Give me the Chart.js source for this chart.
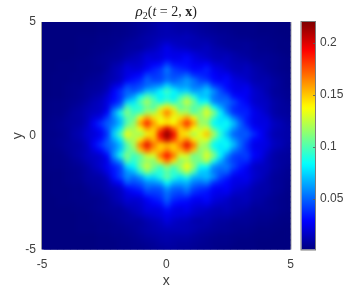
<!DOCTYPE html>
<html>
<head>
<meta charset="utf-8">
<script src="https://cdn.jsdelivr.net/npm/chart.js@4"></script>
<style>
html, body { margin: 0; padding: 0; background: #fff; }
#wrap { position: relative; width: 363px; height: 290px; overflow: hidden; }
canvas { position: absolute; top: 0; }
</style>
</head>
<body>
<div id="wrap">
<canvas id="heat" width="363" height="290" style="left:0"></canvas>
<canvas id="bar" width="73" height="290" style="left:290px"></canvas>
</div>
<script>
// density, in thousandths, top row first
const densityRows = [
[1,1,1,1,1,1,1,1,2,2,2,3,3,4,5,6,7,9,10,9,8,8,7,6,5,4,3,3,2,2,2,2,1,1,1,1,1],
[1,1,1,1,1,1,1,1,2,2,3,3,4,5,6,7,9,11,12,10,9,9,8,7,6,5,4,4,3,3,3,3,2,2,2,1,1],
[1,1,1,1,1,1,1,1,2,2,3,3,4,5,6,8,9,11,12,11,10,11,9,8,7,6,5,5,4,3,3,3,2,2,2,1,1],
[1,1,1,1,1,2,2,2,3,3,4,4,5,6,8,10,11,12,13,13,13,14,12,10,9,8,7,6,5,4,4,3,3,3,2,2,1],
[1,1,1,1,1,2,2,2,3,3,4,5,7,8,9,10,12,15,18,15,14,13,12,12,12,9,7,6,6,6,6,5,4,3,3,2,2],
[1,1,1,1,1,2,2,3,3,4,5,6,8,8,8,12,14,18,25,19,17,16,13,13,15,11,10,8,6,6,7,5,4,4,3,2,2],
[1,1,1,1,1,2,2,3,4,5,6,7,9,11,14,18,19,21,24,23,23,24,20,17,15,13,12,12,10,8,7,6,5,5,4,3,2],
[1,1,1,1,2,2,3,4,5,6,7,8,12,14,16,22,20,21,27,24,25,30,23,20,18,14,13,15,11,10,9,6,6,6,5,4,3],
[1,1,2,2,2,3,3,4,5,6,10,12,18,17,18,23,28,30,42,32,31,30,26,25,28,20,18,15,13,12,13,9,8,6,5,4,3],
[1,1,2,2,2,3,3,4,4,7,12,15,22,20,21,28,35,40,55,41,37,34,29,30,35,25,22,18,14,13,15,11,9,7,5,4,3],
[1,2,2,2,3,3,4,5,6,9,12,16,22,26,29,42,39,42,50,44,44,50,38,36,33,28,24,26,18,16,15,12,10,9,6,5,4],
[1,2,2,2,3,3,5,6,7,10,13,16,27,32,37,50,43,43,52,48,54,62,54,43,40,30,27,30,22,20,17,12,11,11,8,6,4],
[1,2,2,3,4,4,6,7,8,11,20,25,42,40,44,50,56,59,75,62,60,62,54,52,60,41,36,29,24,22,23,15,13,11,8,6,4],
[1,2,2,3,4,5,7,8,9,14,27,38,50,46,52,70,70,84,98,84,72,75,62,65,74,60,45,34,25,24,26,18,15,11,7,6,5],
[1,2,2,3,4,5,7,10,12,19,29,37,52,62,85,102,92,80,88,80,95,108,90,70,70,54,48,46,31,28,25,18,16,13,8,7,5],
[2,3,3,4,5,6,9,13,15,22,31,40,72,78,102,120,102,88,100,90,108,128,108,82,85,57,52,52,44,33,27,18,16,15,10,8,6],
[2,3,3,4,6,8,11,14,16,22,44,56,100,90,92,108,100,125,142,125,102,112,100,105,120,85,65,50,38,34,32,22,18,15,10,8,7],
[2,3,3,5,8,9,13,15,17,27,60,88,112,96,100,118,120,145,168,145,120,120,102,113,132,113,82,56,38,35,35,25,21,16,10,8,7],
[2,4,4,6,8,9,13,20,24,40,56,72,102,105,140,160,145,132,150,132,145,158,140,112,122,95,78,75,55,42,33,24,22,20,12,10,8],
[3,4,5,7,8,9,14,26,38,48,54,68,100,115,158,188,160,138,142,138,160,186,158,118,112,83,79,85,70,50,34,24,22,22,15,13,9],
[3,4,5,6,9,11,16,23,30,44,64,80,118,118,136,160,148,170,198,170,148,160,138,124,132,100,86,78,60,48,42,29,25,21,14,12,10],
[3,3,4,6,10,12,18,20,24,38,73,100,136,122,116,135,148,195,228,195,148,135,118,135,152,122,92,68,49,46,48,38,28,19,12,11,10],
[3,4,5,6,9,11,16,23,30,44,64,80,118,120,142,165,152,180,205,180,152,165,142,126,132,100,86,78,60,49,42,29,26,21,14,12,10],
[3,4,5,7,8,9,14,26,38,48,54,68,100,120,168,198,168,146,152,146,168,198,168,122,112,83,79,85,70,51,36,24,23,22,15,13,9],
[3,3,4,6,8,10,13,21,28,41,56,72,102,110,150,172,155,150,165,150,155,172,150,112,122,95,79,76,55,46,38,26,24,19,12,10,8],
[2,3,3,5,8,10,14,16,18,28,60,88,112,96,104,128,130,168,192,168,130,130,106,113,132,113,82,58,42,40,42,29,24,16,10,8,7],
[2,3,3,4,6,8,12,15,18,23,46,60,102,92,106,116,112,145,168,145,112,122,110,108,122,88,66,50,41,37,37,23,20,14,10,8,7],
[2,3,3,4,5,6,9,14,18,25,34,42,75,82,108,128,110,98,118,100,118,138,116,86,85,59,54,55,44,34,27,17,15,14,10,8,6],
[2,2,2,3,4,5,8,11,14,22,32,42,60,68,92,112,98,90,102,92,105,122,100,72,70,54,48,49,34,29,24,18,15,13,8,7,5],
[1,2,2,3,4,5,8,9,10,15,31,42,58,52,60,78,75,90,105,90,78,90,68,66,70,60,43,35,25,24,25,18,15,11,7,6,5],
[1,2,2,3,4,4,7,8,9,12,22,28,48,44,48,58,60,64,85,67,65,68,55,52,56,39,34,29,23,22,22,15,12,10,7,6,4],
[1,2,2,2,3,3,5,7,8,11,14,17,30,34,38,50,46,47,62,51,50,58,44,40,38,28,26,28,21,19,17,12,10,10,7,6,4],
[1,2,2,2,3,3,4,6,6,9,12,15,22,26,29,40,40,42,52,44,42,48,36,33,31,25,23,24,17,16,14,11,10,9,6,5,3],
[1,1,2,2,3,3,4,4,5,7,11,14,20,19,20,28,33,37,50,38,35,34,27,26,30,22,20,17,13,13,14,10,9,7,5,4,3],
[1,1,2,2,2,3,3,4,5,6,9,11,16,16,18,23,27,30,42,30,28,27,23,22,24,18,16,15,12,12,12,8,8,6,5,4,3],
[1,1,1,1,2,2,3,4,5,6,7,7,11,14,16,22,21,22,30,23,21,25,19,17,16,13,12,14,11,10,9,6,6,6,5,4,3],
[1,1,1,1,1,2,2,3,4,5,6,7,8,11,14,17,19,21,24,22,21,20,17,15,13,12,11,11,9,8,7,6,5,5,4,3,2],
[1,1,1,1,1,2,2,3,3,4,5,6,8,8,8,12,14,16,22,17,15,15,11,10,12,9,8,8,6,6,6,5,4,4,3,2,2],
[1,1,1,1,1,2,2,2,3,3,4,5,6,7,8,10,12,14,17,15,14,13,12,11,10,8,7,6,5,5,5,4,3,3,2,2,1],
[1,1,1,1,1,2,2,2,3,3,4,4,5,6,8,10,11,12,13,13,13,13,11,9,8,7,6,6,5,4,4,3,2,2,2,1,1],
[1,1,1,1,1,1,1,1,2,2,3,3,4,5,6,8,9,10,11,10,10,10,8,7,6,5,4,4,3,3,3,2,2,2,1,1,1],
[1,1,1,1,1,1,1,1,2,2,2,3,3,4,5,6,7,9,10,9,8,8,7,6,5,4,4,4,3,2,2,2,1,1,1,1,1],
[1,1,1,1,1,1,1,1,2,2,2,3,3,4,4,5,6,7,8,8,7,7,6,5,5,4,3,3,2,2,2,2,1,1,1,1,1]
];
const axisTicks = [-5, 0, 5];
const colorTicks = [0.05, 0.1, 0.15, 0.2];
const colorRange = [0.001, 0.22];

// grid spacing of the table above, in axis units
const firstX = -4.79, stepX = 0.2684;
const firstY = 4.995, stepY = 0.2363;

const textColor = '#404040';
const font = { family: '"Liberation Sans", Arial, sans-serif', size: 12 };

function jet(v) {
    const t = Math.min(1, Math.max(0, (v - colorRange[0]) / (colorRange[1] - colorRange[0])));
    const ch = c => Math.round(255 * Math.min(1, Math.max(0, 1.5 - Math.abs(4 * t - c))));
    return `rgb(${ch(3)},${ch(2)},${ch(1)})`;
}

const points = [];
const colors = [];
densityRows.forEach((row, r) => {
    row.forEach((value, c) => {
        points.push({ x: firstX + c * stepX, y: firstY - r * stepY });
        colors.push(jet(value / 1000));
    });
});

// navy behind the cells, then soften the cells so they read like the shaded image
const heatShading = {
    id: 'heatShading',
    beforeDatasetsDraw(chart) {
        const { ctx, chartArea: a } = chart;
        ctx.save();
        ctx.fillStyle = jet(0);
        ctx.fillRect(a.left, a.top, a.width, a.height);
        ctx.restore();
    },
    afterDatasetsDraw(chart) {
        const { ctx, chartArea: a } = chart;
        ctx.save();
        ctx.beginPath();
        ctx.rect(a.left, a.top, a.width, a.height);
        ctx.clip();
        ctx.filter = 'blur(2.4px)';
        ctx.drawImage(ctx.canvas, a.left, a.top, a.width, a.height, a.left, a.top, a.width, a.height);
        ctx.restore();
        ctx.save();
        ctx.strokeStyle = 'rgba(120,120,130,0.75)';
        ctx.lineWidth = 1;
        ctx.beginPath();
        ctx.moveTo(a.left - 0.5, a.top);
        ctx.lineTo(a.left - 0.5, a.bottom);
        ctx.moveTo(a.right + 0.5, a.top);
        ctx.lineTo(a.right + 0.5, a.bottom);
        ctx.stroke();
        ctx.restore();
    }
};

// title has mixed styles, so it goes run by run
const titleRuns = [
    ['\u03C1', 'italic 15px "Liberation Serif"', 0],
    ['2', '10px "Liberation Serif"', 3],
    ['(', '14px "Liberation Serif"', 0],
    ['t', 'italic 14px "Liberation Serif"', 0],
    [' = 2, ', '14px "Liberation Serif"', 0],
    ['x', 'bold 14px "Liberation Serif"', 0],
    [')', '14px "Liberation Serif"', 0]
];
const mixedTitle = {
    id: 'mixedTitle',
    afterDraw(chart) {
        const { ctx, chartArea: a } = chart;
        ctx.save();
        ctx.fillStyle = '#222';
        ctx.textBaseline = 'alphabetic';
        ctx.textAlign = 'left';
        let width = 0;
        titleRuns.forEach(([text, f]) => { ctx.font = f; width += ctx.measureText(text).width; });
        let x = (a.left + a.right) / 2 - width / 2;
        titleRuns.forEach(([text, f, drop]) => {
            ctx.font = f;
            ctx.fillText(text, x, 16 + drop);
            x += ctx.measureText(text).width;
        });
        ctx.restore();
    }
};

new Chart(document.getElementById('heat'), {
    type: 'scatter',
    data: {
        datasets: [{
            data: points,
            pointStyle: 'rect',
            pointRadius: 5.1,
            pointBorderWidth: 0,
            pointBackgroundColor: colors,
            clip: 0
        }]
    },
    plugins: [heatShading, mixedTitle],
    options: {
        responsive: false,
        animation: false,
        layout: { padding: { left: 0, right: 72.5, top: 22, bottom: 0 } },
        plugins: { legend: { display: false }, tooltip: { enabled: false } },
        scales: {
            x: {
                type: 'linear', min: -5, max: 5,
                afterBuildTicks(s) { s.ticks = axisTicks.map(value => ({ value })); },
                afterFit(s) { s.height = 40.5; },
                grid: { display: false, drawTicks: false },
                border: { display: false },
                ticks: { color: textColor, font, maxRotation: 0, padding: 8 },
                title: { display: true, text: 'x', color: textColor, font: { ...font, size: 14 }, padding: { top: 0, bottom: 0 } }
            },
            y: {
                type: 'linear', min: -5, max: 5,
                afterBuildTicks(s) { s.ticks = axisTicks.map(value => ({ value })); },
                afterFit(s) { s.width = 42; },
                grid: { display: false, drawTicks: false },
                border: { display: false },
                ticks: { color: textColor, font, padding: 6 },
                title: { display: true, text: 'y', color: textColor, font: { ...font, size: 14 }, padding: { top: 10, bottom: 0 } }
            }
        }
    }
});

const barFrame = {
    id: 'barFrame',
    afterDatasetsDraw(chart) {
        const { ctx, chartArea: a, scales } = chart;
        ctx.save();
        ctx.strokeStyle = 'rgba(90,90,90,0.8)';
        ctx.lineWidth = 1;
        ctx.strokeRect(a.left - 0.5, a.top - 0.5, a.width + 1, a.height + 1);
        ctx.beginPath();
        colorTicks.forEach(v => {
            const y = Math.round(scales.y.getPixelForValue(v)) + 0.5;
            ctx.moveTo(a.right - 2, y);
            ctx.lineTo(a.right, y);
        });
        ctx.stroke();
        ctx.restore();
    }
};

new Chart(document.getElementById('bar'), {
    type: 'bar',
    data: {
        labels: [''],
        datasets: [{
            data: [colorRange],
            barPercentage: 1,
            categoryPercentage: 1,
            backgroundColor(c) {
                const a = c.chart.chartArea;
                if (!a) return jet(0);
                const g = c.chart.ctx.createLinearGradient(0, a.bottom, 0, a.top);
                for (let i = 0; i <= 63; i++) {
                    g.addColorStop(i / 63, jet(colorRange[0] + (colorRange[1] - colorRange[0]) * i / 63));
                }
                return g;
            }
        }]
    },
    plugins: [barFrame],
    options: {
        responsive: false,
        animation: false,
        layout: { padding: { left: 11.5, right: 0, top: 22, bottom: 40.5 } },
        plugins: { legend: { display: false }, tooltip: { enabled: false } },
        scales: {
            x: { display: false },
            y: {
                position: 'right',
                min: colorRange[0], max: colorRange[1],
                afterBuildTicks(s) { s.ticks = colorTicks.map(value => ({ value })); },
                afterFit(s) { s.width = 48; },
                grid: { display: false, drawTicks: false },
                border: { display: false },
                ticks: { color: textColor, font, padding: 5, callback: v => String(v) }
            }
        }
    }
});
</script>
</body>
</html>
